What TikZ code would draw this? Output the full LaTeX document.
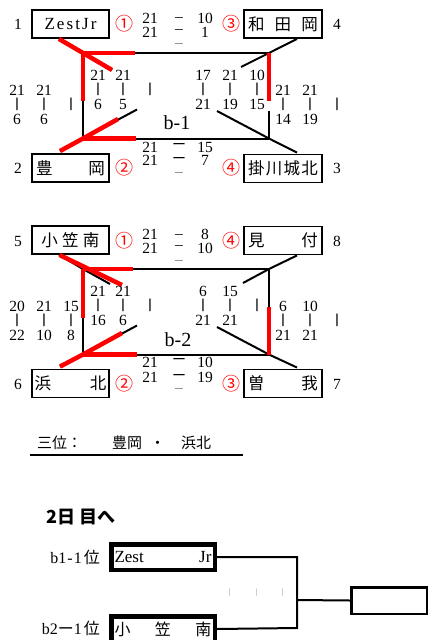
\documentclass[tikz,border=0pt]{standalone}
\usepackage{fontspec}
\setmainfont{Liberation Serif}
\newfontfamily\jp{Noto Sans CJK JP}
\newcommand\scorecol[5]{%
  \node[lbl] (#1t) at (#2,#3) {#4};
  \node[bar] (#1m) at (#2,{#3+14.5}) {|};
  \node[lbl] (#1b) at (#2,{#3+29}) {#5};}
\begin{document}
\begin{tikzpicture}[x=1pt,y=-1pt,
  lbl/.style={inner sep=0pt, font=\fontsize{15.5}{15.5}\selectfont},
  bar/.style={inner sep=0pt, font=\jp\bfseries\fontsize{11}{11}\selectfont},
  dsh/.style={inner sep=0pt, font=\fontsize{15.5}{15.5}\selectfont},
  ldsh/.style={inner sep=0pt, font=\jp\fontsize{14}{14}\selectfont},
  gdsh/.style={inner sep=0pt, text=black!55, font=\fontsize{15.5}{15.5}\selectfont},
  circ/.style={inner sep=0pt, text=red, font=\jp\fontsize{18}{18}\selectfont},
  team/.style={draw, line width=1.9pt, minimum width=77.5pt, minimum height=28pt, inner sep=0pt, font=\jp\fontsize{16.5}{16.5}\selectfont},
  bigteam/.style={draw, line width=4.5pt, minimum width=103.5pt, minimum height=25.5pt, inner sep=0pt},
  bk/.style={line width=2pt, black},
  rd/.style={line width=4.5pt, red},
  side/.style={inner sep=0pt, font=\fontsize{16}{16}\selectfont},
  grp/.style={inner sep=0pt, font=\fontsize{20}{20}\selectfont}]
\fill[white] (0,0) rectangle (429,640);
\useasboundingbox (0,0) rectangle (429,640);

% ---------------- bracket b-1 ----------------
\node[team, font=\fontsize{17}{17}\selectfont] (A1) at (70.5,24) {\makebox[52pt][s]{Z\hfill e\hfill s\hfill t\hfill J\hfill r}};
\node[team] (A4) at (283,24) {\makebox[70pt][s]{和\hfill 田\hfill 岡}};
\node[team] (A2) at (70.5,168) {\makebox[69pt][s]{豊\hfill 岡}};
\node[team] (A3) at (283,168.5) {\makebox[70pt][s]{掛\hfill 川\hfill 城\hfill 北}};

\coordinate (p1tl) at (83,53);
\coordinate (p1tr) at (269,53);
\coordinate (p1bl) at (83,138.5);
\coordinate (p1br) at (269,138.5);
\coordinate (g1a) at (269,101);
\coordinate (g1b) at (269,111);
\coordinate (e1tl) at (112,70);
\coordinate (e1tr) at (241,67);
\coordinate (e1bl) at (137,109.5);
\coordinate (e1br) at (217,111);
\coordinate (r1th) at (135,53);
\coordinate (r1lv) at (83,101);
\coordinate (r1bl) at (118,119);
\coordinate (r1bh) at (136,138.5);

\draw[bk] (p1tl) -- (p1tr);
\draw[bk] (p1tl) -- (p1bl) -- (p1br);
\draw[bk] (p1tr) -- (g1a);
\draw[bk] (g1b) -- (p1br);
\draw[bk] ([xshift=-11.5pt]A1.south) -- (p1tl) -- (e1tl);
\draw[bk] ([xshift=14pt]A4.south) -- (p1tr) -- (e1tr);
\draw[bk] ([xshift=-10.5pt,yshift=2pt]A2.north) -- (p1bl) -- (e1bl);
\draw[bk] (e1br) -- (p1br) -- ([xshift=14pt,yshift=1pt]A3.north);

\draw[rd] ([xshift=-11.5pt]A1.south) -- (p1tl) -- (e1tl);
\draw[rd] (p1tl) -- (r1th);
\draw[rd] (p1tl) -- (r1lv);
\draw[rd] (p1tr) -- (g1a);
\draw[rd] ([xshift=-10.5pt,yshift=2pt]A2.north) -- (p1bl) -- (r1bl);
\draw[rd] (p1bl) -- (r1bh);

\node[lbl] (n1) at (18,24) {1};
\node[lbl] (n4) at (337,24) {4};
\node[lbl] (n2) at (18,168) {2};
\node[lbl] (n3) at (337,168) {3};
\node[circ] (k1) at (124,24) {①};
\node[circ] (k3) at (231,24) {③};
\node[circ] (k2) at (124,168) {②};
\node[circ] (k4) at (231,168) {④};

\node[lbl] (s1a) at (150,18) {21};
\node[dsh] (s1b) at (179,20) {–};
\node[lbl] (s1c) at (205,18) {10};
\node[lbl] (s1d) at (150,32) {21};
\node[dsh] (s1e) at (179,31.5) {–};
\node[lbl] (s1f) at (205,32) {1};
\node[gdsh] (s1g) at (179,45.5) {–};

\node[lbl] (t1a) at (150,147) {21};
\node[ldsh] (t1b) at (179,146) {ー};
\node[lbl] (t1c) at (205,147) {15};
\node[lbl] (t1d) at (150,160) {21};
\node[ldsh] (t1e) at (179,160) {ー};
\node[lbl] (t1f) at (205,160) {7};
\node[gdsh] (t1g) at (179,174.5) {–};

\node[grp] (b1) at (177,123) {b-1};

\scorecol{c1a}{17}{90}{21}{6}
\scorecol{c1b}{44}{90}{21}{6}
\node[bar] (c1c) at (71,104.5) {|};
\scorecol{c1d}{98}{75}{21}{6}
\scorecol{c1e}{123}{75}{21}{5}
\node[bar] (c1f) at (150,89.5) {|};
\scorecol{c1g}{203}{75}{17}{21}
\scorecol{c1h}{230}{75}{21}{19}
\scorecol{c1i}{257}{75}{10}{15}
\scorecol{c1j}{283}{90}{21}{14}
\scorecol{c1k}{310}{90}{21}{19}
\node[bar] (c1l) at (337,104.5) {|};

% ---------------- bracket b-2 ----------------
\node[team] (B1) at (70.5,240) {\makebox[58pt][s]{小\hfill 笠\hfill 南}};
\node[team] (B4) at (283,240.5) {\makebox[70pt][s]{見\hfill 付}};
\node[team] (B2) at (70.5,383.5) {\makebox[72pt][s]{浜\hfill 北}};
\node[team] (B3) at (283,383.5) {\makebox[70pt][s]{曽\hfill 我}};

\coordinate (p2tl) at (83,269);
\coordinate (p2tr) at (269,269);
\coordinate (p2bl) at (83,354.5);
\coordinate (p2br) at (269,354.5);
\coordinate (e2tl) at (110,284);
\coordinate (e2tr) at (243,283);
\coordinate (e2bl) at (137,325.5);
\coordinate (e2br) at (217,327);
\coordinate (r2tl) at (122,285);
\coordinate (r2th) at (133,269);
\coordinate (r2lv) at (83,318);
\coordinate (r2rv) at (269,307);
\coordinate (r2bl) at (122,333);
\coordinate (r2bh) at (137,354.5);

\draw[bk] (p2tl) -- (p2tr) -- (p2br) -- (p2bl) -- cycle;
\draw[bk] ([xshift=-11.5pt]B1.south) -- (p2tl) -- (e2tl);
\draw[bk] ([xshift=14pt]B4.south) -- (p2tr) -- (e2tr);
\draw[bk] ([xshift=-10.5pt,yshift=2pt]B2.north) -- (p2bl) -- (e2bl);
\draw[bk] (e2br) -- (p2br) -- ([xshift=14pt,yshift=1pt]B3.north);

\draw[rd] ([xshift=-11pt]B1.south) -- (r2tl);
\draw[rd] (p2tl) -- (r2th);
\draw[rd] (p2tl) -- (r2lv);
\draw[rd] (r2rv) -- (p2br);
\draw[rd] ([xshift=-10.5pt,yshift=2pt]B2.north) -- (p2bl) -- (r2bl);
\draw[rd] (p2bl) -- (r2bh);

\node[lbl] (n5) at (18,241) {5};
\node[lbl] (n8) at (337,241) {8};
\node[lbl] (n6) at (18,384) {6};
\node[lbl] (n7) at (337,384) {7};
\node[circ] (k5) at (124,241) {①};
\node[circ] (k8) at (231,241) {④};
\node[circ] (k6) at (124,384) {②};
\node[circ] (k7) at (231,384) {③};

\node[lbl] (s2a) at (150,234) {21};
\node[dsh] (s2b) at (179,236) {–};
\node[lbl] (s2c) at (205,234) {8};
\node[lbl] (s2d) at (150,248) {21};
\node[dsh] (s2e) at (179,247.5) {–};
\node[lbl] (s2f) at (205,248) {10};
\node[gdsh] (s2g) at (179,262) {–};

\node[lbl] (t2a) at (150,362) {21};
\node[ldsh] (t2b) at (179,361) {ー};
\node[lbl] (t2c) at (205,362) {10};
\node[lbl] (t2d) at (150,377) {21};
\node[ldsh] (t2e) at (179,377) {ー};
\node[lbl] (t2f) at (205,377) {19};
\node[gdsh] (t2g) at (179,390.5) {–};

\node[grp] (b2) at (178,340) {b-2};

\scorecol{c2a}{17}{306}{20}{22}
\scorecol{c2b}{44}{306}{21}{10}
\scorecol{c2c}{71}{306}{15}{8}
\scorecol{c2d}{98}{291}{21}{16}
\scorecol{c2e}{123}{291}{21}{6}
\node[bar] (c2f) at (150,305.5) {|};
\scorecol{c2g}{203}{291}{6}{21}
\scorecol{c2h}{230}{291}{15}{21}
\node[bar] (c2i) at (257,305.5) {|};
\scorecol{c2j}{283}{306}{6}{21}
\scorecol{c2k}{310}{306}{10}{21}
\node[bar] (c2l) at (337,320.5) {|};

% ---------------- third place ----------------
\node[anchor=west, inner sep=0pt, font=\jp\fontsize{15}{15}\selectfont] (third) at (37,443)
  {三位：\hspace{30pt}豊岡\hspace{8pt}・\hspace{16pt}浜北};
\draw[line width=1.8pt] (30,455) -- (243,455);

% ---------------- day 2 ----------------
\node[anchor=west, inner sep=0pt, font=\jp\bfseries\fontsize{18}{18}\selectfont] (day2) at (46,517) {2日\hspace{4pt}目へ};

\node[anchor=east, side] (L1) at (100,557) {b1\kern1pt-\kern1pt1\kern2pt{\jp 位}};
\node[anchor=east, side] (L2) at (100,628) {b2{\jp ー}1\kern2pt{\jp 位}};

\node[bigteam, font=\fontsize{17}{17}\selectfont] (C1) at (163,557) {\makebox[97pt][s]{Zest\hfill Jr}};
\node[bigteam, font=\jp\fontsize{16}{16}\selectfont] (C2) at (163,629) {\makebox[97pt][s]{小\hfill 笠\hfill 南}};
\node[draw, line width=2.5pt, minimum width=75.5pt, minimum height=26.5pt, inner sep=0pt] (C3) at (389,600.5) {};

\coordinate (q1) at (297,557);
\coordinate (q2) at (297,628);
\coordinate (q3) at (297,600);
\draw[bk] (C1.east) -- (q1) -- (q2) -- (C2.east);
\draw[bk] (q3) -- (C3.west);

\node[inner sep=0pt, text=black!50, font=\fontsize{8}{8}\selectfont] (v1) at (230,593) {|};
\node[inner sep=0pt, text=black!50, font=\fontsize{8}{8}\selectfont] (v2) at (257,593) {|};
\node[inner sep=0pt, text=black!50, font=\fontsize{8}{8}\selectfont] (v3) at (283,593) {|};
\end{tikzpicture}
\end{document}
